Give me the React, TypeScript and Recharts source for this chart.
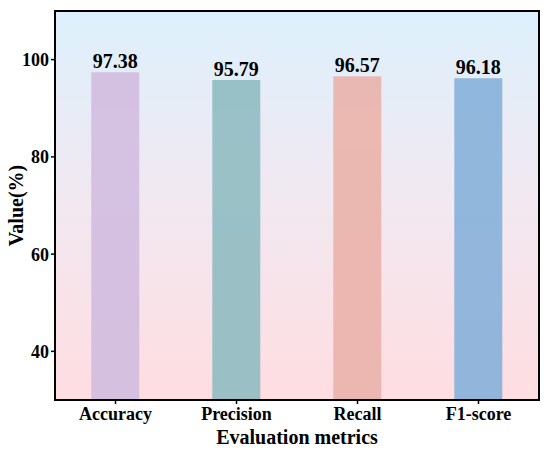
import React from "react";
import {
    BarChart,
    Bar,
    XAxis,
    YAxis,
    CartesianGrid,
    Cell,
    LabelList,
    ReferenceArea,
} from "recharts";

const metrics = ["Accuracy", "Precision", "Recall", "F1-score"];
const values = [97.38, 95.79, 96.57, 96.18];
const barColors = ["#D3BDE0", "#91BDC2", "#EAB3AB", "#89B2DA"];
const yTicks = [40, 60, 80, 100];

const FONT = "'Liberation Serif', 'Times New Roman', serif";

const data = metrics.map((name, i) => ({ name, value: values[i] }));

export default function App() {
    return (
        <div style={{ position: "absolute", left: 0, top: 0, background: "#fff" }}>
            <BarChart
                width={550}
                height={453}
                data={data}
                margin={{ top: 11, right: 11, bottom: 0, left: 0 }}
                barCategoryGap="30%"
            >
                <defs>
                    <linearGradient id="bg" x1="0" y1="0" x2="0" y2="1">
                        <stop offset="0%" stopColor="#DDF0FC" />
                        <stop offset="50%" stopColor="#F2E8F0" />
                        <stop offset="100%" stopColor="#FEDDE1" />
                    </linearGradient>
                </defs>
                <CartesianGrid fill="url(#bg)" horizontal={false} vertical={false} />
                <XAxis
                    dataKey="name"
                    height={53}
                    tickSize={4}
                    tickMargin={3}
                    axisLine={{ stroke: "#000", strokeWidth: 2, strokeLinecap: "square" }}
                    tickLine={{ stroke: "#000", strokeWidth: 1.5 }}
                    tick={{ fill: "#000", fontSize: 18, fontWeight: "bold", fontFamily: FONT }}
                    label={{
                        content: ({ viewBox }: any) => (
                            <text
                                x={viewBox.x + viewBox.width / 2}
                                y={444}
                                textAnchor="middle"
                                fill="#000"
                                fontSize={20}
                                fontWeight="bold"
                                fontFamily={FONT}
                            >
                                Evaluation metrics
                            </text>
                        ),
                    }}
                />
                <YAxis
                    width={55}
                    domain={[30, 110]}
                    ticks={yTicks}
                    allowDataOverflow
                    tickSize={4}
                    tickMargin={2}
                    axisLine={{ stroke: "#000", strokeWidth: 2, strokeLinecap: "square" }}
                    tickLine={{ stroke: "#000", strokeWidth: 1.5 }}
                    tick={{ fill: "#000", fontSize: 18, fontWeight: "bold", fontFamily: FONT }}
                    label={{
                        content: ({ viewBox }: any) => {
                            const cx = 16;
                            const cy = viewBox.y + viewBox.height / 2;
                            return (
                                <text
                                    x={cx}
                                    y={cy}
                                    transform={`rotate(-90, ${cx}, ${cy})`}
                                    textAnchor="middle"
                                    dominantBaseline="central"
                                    fill="#000"
                                    fontSize={20}
                                    fontWeight="bold"
                                    fontFamily={FONT}
                                >
                                    Value(%)
                                </text>
                            );
                        },
                    }}
                />
                <Bar dataKey="value" isAnimationActive={false} fillOpacity={0.92}>
                    {data.map((d, i) => (
                        <Cell key={d.name} fill={barColors[i]} />
                    ))}
                    <LabelList
                        dataKey="value"
                        position="top"
                        offset={4}
                        fill="#000"
                        fontSize={20}
                        fontWeight="bold"
                        fontFamily={FONT}
                        formatter={(v: any) => Number(v).toFixed(2)}
                    />
                </Bar>
                <ReferenceArea
                    y1={30}
                    y2={110}
                    fill="none"
                    fillOpacity={0}
                    stroke="#000"
                    strokeWidth={2}
                />
            </BarChart>
        </div>
    );
}
